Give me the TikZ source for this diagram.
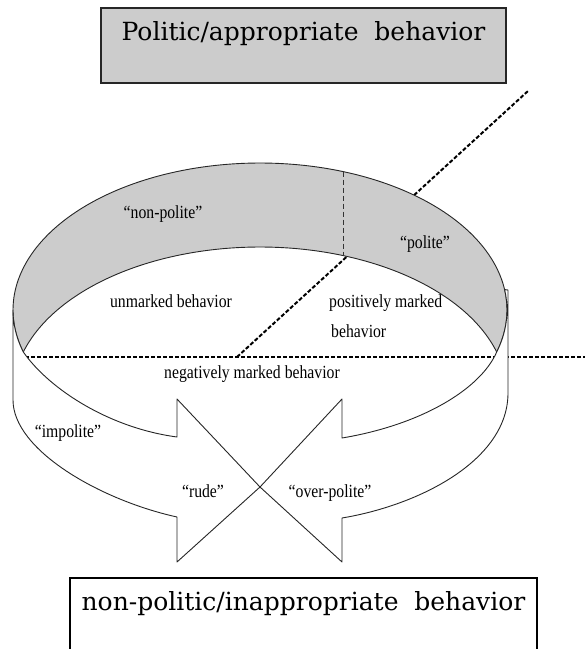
\documentclass[tikz,border=0pt]{standalone}
\usepackage{fontspec}
\setmainfont{Liberation Serif}
\newfontfamily\ringfont[FakeStretch=0.85]{Liberation Serif}
\newfontfamily\boxfont{DejaVu Serif}
\definecolor{ringgray}{HTML}{CCCCCC}
\begin{document}
\begin{tikzpicture}[x=1pt,y=-1pt,
  ringedge/.style={draw=black!85, line width=0.9pt, line join=round},
  frontpiece/.style={ringedge, fill=white},
  guide/.style={draw=black, line width=2pt, dash pattern=on 4pt off 2pt},
  divider/.style={draw=black!80, line width=0.7pt, dash pattern=on 5pt off 3pt},
  ringlabel/.style={font={\ringfont\fontsize{18.5}{30}\selectfont}, inner sep=0pt, anchor=base},
  boxlabel/.style={font={\boxfont\fontsize{25}{30}\selectfont}, inner xsep=0pt, inner ysep=0pt, text height=32pt, anchor=base}
]
\useasboundingbox (0,0) rectangle (585,649);

% dotted guide lines (behind the ring)
\coordinate (hL) at (13,357);
\coordinate (hR) at (585,357);
\coordinate (dA) at (237,357);
\coordinate (dB) at (528,91);
\draw[guide] (hL) -- (hR);
\draw[guide] (dA) -- (dB);

% inner (back) wall of the ring
\fill[ringgray] plot[domain=-16.6:196.6, samples=150] ({260+247*cos(\x)},{310-147*sin(\x)})
  -- plot[domain=16.6:163.4, samples=120] ({260-247*cos(\x)},{394-147*sin(\x)}) -- cycle;
\draw[ringedge] plot[domain=-16.6:196.6, samples=150] ({260+247*cos(\x)},{310-147*sin(\x)});
\draw[ringedge] plot[domain=16.6:163.4, samples=120] ({260-247*cos(\x)},{394-147*sin(\x)});

% split between "non-polite" and "polite"
\coordinate (sT) at (343,171.5);
\coordinate (sB) at (343,255.5);
\draw[divider] (sT) -- (sB);

% front band, turning into two arrowheads
\coordinate (tip) at (260,487);
\coordinate (lUp) at (177,399);
\coordinate (lLo) at (177,562);
\coordinate (rUp) at (342,399);
\coordinate (rLo) at (342,562);

\draw[frontpiece] plot[domain=0:16.6, samples=30] ({260-247*cos(\x)},{310+147*sin(\x)})
  .. controls (50,390) and (110,428) .. (177,437)
  -- (lUp) -- (tip) -- (lLo) -- (177,517)
  .. controls (100,500) and (13,450) .. (13,400) -- cycle;

\draw[frontpiece] (508,290) -- (508,393)
  .. controls (508,460) and (420,505) .. (342,518)
  -- (rLo) -- (tip) -- (rUp) -- (342,438)
  .. controls (420,425) and (480,390) .. (496.7,352)
  -- plot[domain=-16.6:8, samples=30] ({260+247*cos(\x)},{310-147*sin(\x)}) -- cycle;

% labels on the ring
\node[ringlabel] (np) at (163,218) {“non-polite”};
\node[ringlabel] (po) at (425,248) {“polite”};
\node[ringlabel] (um) at (171,307) {unmarked behavior};
\node[ringlabel, anchor=base west] (pm1) at (329,307) {positively marked};
\node[ringlabel, anchor=base west] (pm2) at (331,337) {behavior};
\node[ringlabel] (neg) at (252,378) {negatively marked behavior};
\node[ringlabel] (imp) at (68,437) {“impolite”};
\node[ringlabel] (rude) at (203,497) {“rude”};
\node[ringlabel] (over) at (330,497) {“over-polite”};

% boxes
\node[boxlabel, fill=ringgray, draw=black!85, line width=1.5pt, minimum width=405pt, text depth=43pt]
  (appr) at (303.5,40) {Politic/appropriate\ \ behavior};
\node[boxlabel, minimum width=467pt, text depth=39pt]
  (inappr) at (303.5,610) {non-politic/inappropriate\ \ behavior};
\draw[line width=1.6pt] (inappr.south west) -- (inappr.north west) -- (inappr.north east) -- (inappr.south east);
\end{tikzpicture}
\end{document}
